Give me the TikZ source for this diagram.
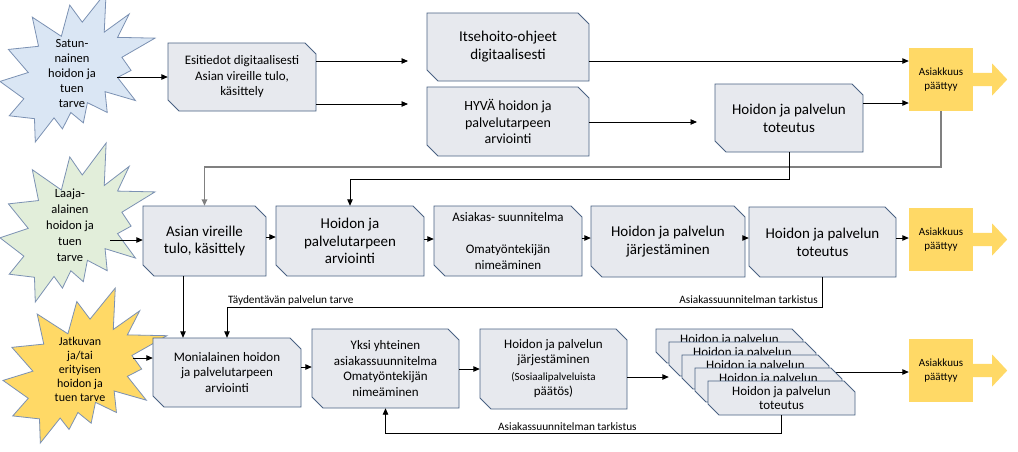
\documentclass[tikz,border=0pt]{standalone}
\usepackage{fontspec}
\setmainfont{Carlito}
\usetikzlibrary{arrows.meta}
\definecolor{boxfill}{HTML}{E7E9EE}
\definecolor{boxline}{HTML}{4A6283}
\definecolor{starline}{HTML}{7B91B3}
\definecolor{starblue}{HTML}{DAE6F4}
\definecolor{stargreen}{HTML}{E2EEDA}
\definecolor{staryellow}{HTML}{FFD966}
\definecolor{goldc}{HTML}{FFD966}
\definecolor{fbgray}{HTML}{808080}
\newcommand\fsz[2]{\fontsize{#1}{#2}\selectfont}
\newcommand\snipbox[6][]{%
  \filldraw[snipshape] (#2,#3) -- ({#4-11},#3) -- (#4,{#3+11}) -- (#4,#5) -- ({#2+11},#5) -- (#2,{#5-11}) -- cycle;
  \node[sniptext,minimum width={#4-#2},minimum height={#5-#3},#1] (#6) at ({(#2+#4)/2},{(#3+#5)/2})}
\newcommand\seal[5]{%
  \filldraw[fill=#5, draw=starline, line width=0.8pt, shift={(#1,#2)}, xscale=#3/1000, yscale=#4/1000]
  (530.6,201.0) -- (684.7,0) -- (672.5,267.5) -- (833.7,146.9) -- (758.3,302.4) -- (1000,307.6) --
  (786.3,435.3) -- (845.8,522.7) -- (758.3,569.9) -- (873.9,723.7) -- (677.8,664.4) -- (691.8,803.2) --
  (563.9,737.7) -- (537.6,872.3) -- (457.0,803.2) -- (402.8,912.6) -- (348.5,839.1) -- (227.6,1000) --
  (222.5,844.4) -- (59.5,825.2) -- (154.2,711.6) -- (0,596.2) -- (182.2,536.7) -- (54.3,382.8) --
  (248.7,361.9) -- (208.4,167.8) -- (395.8,295.5) -- (450.1,87.4) -- cycle;}
\begin{document}
\begin{tikzpicture}[x=1pt,y=-1pt,
  snipshape/.style={fill=boxfill, draw=boxline, line width=0.8pt},
  sniptext/.style={inner sep=0pt, align=center, text=black},
  startext/.style={inner sep=0pt, align=center, text=black},
  goldbox/.style={fill=goldc, minimum width=64, minimum height=63, inner sep=0pt, align=center, font={\fsz{11}{14}}},
  arr/.style={-{Triangle[length=6.5pt,width=5.5pt]}, line width=0.9pt, black},
  fbg/.style={-{Triangle[length=6.5pt,width=5.5pt]}, line width=1.8pt, fbgray},
  lbl/.style={inner sep=0pt, font={\fsz{11.3}{13}}}]
\useasboundingbox (0,0) rectangle (1018,451);
\fill[white] (0,0) rectangle (1018,451);

% stars
\seal{0}{-8}{155}{150}{starblue}
\seal{0}{143}{155}{159}{stargreen}
\seal{3}{288}{164}{155}{staryellow}
\node[startext, font={\fsz{12.5}{15}}, minimum width=90] (S1) at (72,73) {Satun-\\nainen\\hoidon ja\\tuen\\tarve};
\node[startext, font={\fsz{12.5}{16}}, minimum width=80] (S2) at (70,225) {Laaja-\\alainen\\hoidon ja\\tuen\\tarve};
\node[startext, font={\fsz{12}{14}}, minimum width=106] (S3) at (80,369) {Jatkuvan\\ja/tai\\erityisen\\hoidon ja\\tuen tarve};

% end boxes
\node[goldbox] (Y1) at (941,79.5) {Asiakkuus\\päättyy};
\node[goldbox] (Y2) at (941,239.5) {Asiakkuus\\päättyy};
\node[goldbox] (Y3) at (941,370.5) {Asiakkuus\\päättyy};
\foreach \yy in {Y1,Y2,Y3}
  \fill[goldc, shift={(\yy.east)}] (-0.5,-6.7) -- (19,-6.7) -- (19,-16) -- (34,0) -- (19,16) -- (19,6.7) -- (-0.5,6.7) -- cycle;

% row 1
\snipbox[font={\fsz{13}{15.5}}]{168}{43}{316}{111}{A} {Esitiedot digitaalisesti\\Asian vireille tulo,\\käsittely};
\snipbox[font={\fsz{15}{18}}]{427}{13}{589}{81}{Its} {Itsehoito-ohjeet\\digitaalisesti};
\snipbox[font={\fsz{14}{16.5}}]{427}{87}{589}{156}{Hyva} {HYVÄ hoidon ja\\palvelutarpeen\\arviointi};
\snipbox[font={\fsz{15}{18}}]{715}{84}{863}{152}{T1} {Hoidon ja palvelun\\toteutus};

% row 2
\snipbox[font={\fsz{15}{17.5}}]{143}{206}{266}{276}{B} {Asian vireille\\tulo, käsittely};
\snipbox[font={\fsz{15}{17.5}}]{276}{206}{424}{276}{C} {Hoidon ja\\palvelutarpeen\\arviointi};
\snipbox[font={\fsz{13}{16}}]{434}{206}{582}{276}{D} {Asiakas- suunnitelma\\[16pt]Omatyöntekijän\\nimeäminen};
\snipbox[font={\fsz{15}{18}}]{591}{206}{745}{277}{E} {Hoidon ja palvelun\\järjestäminen};
\snipbox[font={\fsz{15}{18}}]{749}{207}{896}{277}{F} {Hoidon ja palvelun\\toteutus};

% row 3
\snipbox[font={\fsz{13}{15.5}}]{153}{338}{301}{407}{G} {Monialainen hoidon\\ja palvelutarpeen\\arviointi};
\snipbox[font={\fsz{13}{15.5}}]{312}{329}{459}{408}{H} {Yksi yhteinen\\asiakassuunnitelma\\Omatyöntekijän\\nimeäminen};
\snipbox[font={\fsz{13}{15}}]{480}{329}{627}{409}{I} {Hoidon ja palvelun\\järjestäminen\\[2pt]\fsz{11}{13}(Sosiaalipalveluista\\päätös)};

% stack
\snipbox[font={\fsz{13}{14}}]{656}{329}{803}{363}{St1} {Hoidon ja palvelun\\toteutus};
\snipbox[font={\fsz{13}{14}}]{669}{342}{816}{376}{St2} {Hoidon ja palvelun\\toteutus};
\snipbox[font={\fsz{13}{14}}]{682}{355}{829}{389}{St3} {Hoidon ja palvelun\\toteutus};
\draw[arr] (St3.east) -- (St3.east -| Y3.west);
\snipbox[font={\fsz{13}{14}}]{695}{368}{842}{402}{St4} {Hoidon ja palvelun\\toteutus};
\snipbox[font={\fsz{13}{14}}]{708}{381}{855}{415}{St5} {Hoidon ja palvelun\\toteutus};

% connectors row 1
\coordinate (e1) at (408,61);
\coordinate (e2) at (408,104);
\coordinate (e3) at (697,122);
\draw[arr] (S1.east |- A.west) -- (A.west);
\draw[arr] (A.east |- e1) -- (e1);
\draw[arr] (A.east |- e2) -- (e2);
\draw[arr] (Its.east |- 0,61) -- (Y1.west |- 0,61);
\draw[arr] (Hyva.east |- e3) -- (e3);
\draw[arr] (T1.east |- 0,103) -- (Y1.west |- 0,103);
\draw[fbg] (Y1.south) -- (Y1.south |- 0,167) -- (B.north |- 0,167) -- (B.north);
\draw[arr] (T1.south) -- (T1.south |- 0,179) -- (C.north |- 0,179) -- (C.north);

% connectors row 2
\draw[arr] (S2.east |- 0,240) -- (B.west |- 0,240);
\draw[arr] (B.east |- 0,237) -- (C.west |- 0,237);
\draw[arr] (C.east |- 0,239) -- (D.west |- 0,239);
\draw[arr] (D.east |- 0,238) -- (E.west |- 0,238);
\draw[arr] (E.east |- 0,238) -- (F.west |- 0,238);
\draw[arr] (F.east |- 0,238) -- (Y2.west |- 0,238);
\draw[arr] (B.south -| 183,0) -- (G.north -| 183,0);
\draw[arr] (F.south) -- (F.south |- 0,307) -- (G.north |- 0,307) -- (G.north);
\node[lbl, anchor=west] (L1) at (228,300) {Täydentävän palvelun tarve};
\node[lbl, anchor=east] (L2) at (818,300) {Asiakassuunnitelman tarkistus};

% connectors row 3
\draw[arr] (S3.east |- 0,358) -- (G.west |- 0,358);
\draw[arr] (G.east |- 0,367) -- (H.west |- 0,367);
\draw[arr] (H.east |- 0,369) -- (I.west |- 0,369);
\draw[arr] (I.east |- 0,377) -- (St2.west |- 0,377);
\draw[arr] (St5.south) -- (St5.south |- 0,433) -- (H.south |- 0,433) -- (H.south);
\node[lbl, anchor=west] (L3) at (498,427) {Asiakassuunnitelman tarkistus};
\end{tikzpicture}
\end{document}
